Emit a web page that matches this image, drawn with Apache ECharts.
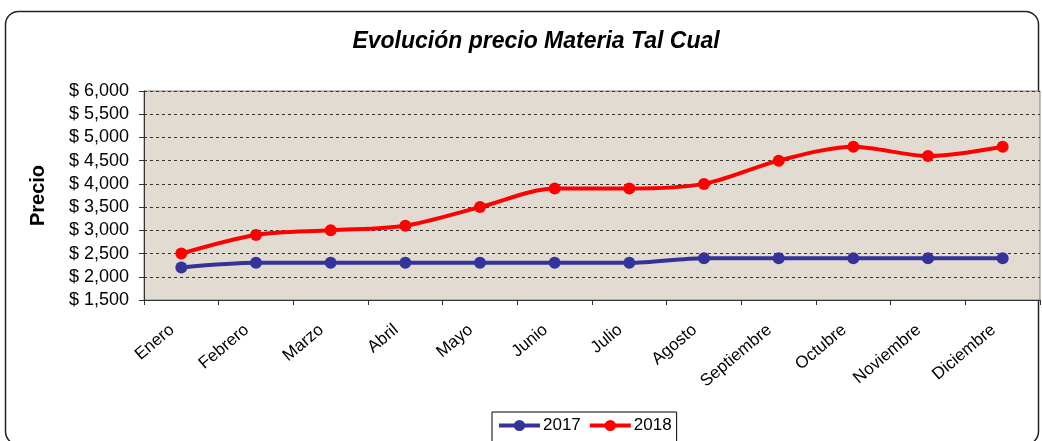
<!DOCTYPE html>
<html>

<head>
    <meta charset="utf-8">
    <title>Evolución precio</title>
    <script src="https://cdn.jsdelivr.net/npm/echarts@6/dist/echarts.min.js"></script>
    <style>
        html, body { margin: 0; padding: 0; background: #fff; }
    </style>
</head>

<body>
    <div id="main" style="width: 1042px;height: 441px;"></div>
    <script type="text/javascript">
    var months = ['Enero', 'Febrero', 'Marzo', 'Abril', 'Mayo', 'Junio', 'Julio',
        'Agosto', 'Septiembre', 'Octubre', 'Noviembre', 'Diciembre'];
    var precio2017 = [2200, 2300, 2300, 2300, 2300, 2300, 2300, 2400, 2400, 2400, 2400, 2400];
    var precio2018 = [2500, 2900, 3000, 3100, 3500, 3900, 3900, 4000, 4500, 4800, 4600, 4800];
    var yMin = 1500, yMax = 6000, yStep = 500;

    var font = 'Liberation Sans, Arial, sans-serif';
    var myChart = echarts.init(document.getElementById('main'));

    function money(v) {
        return '$ ' + v.toLocaleString('en-US');
    }

    var option = {
        animation: false,
        backgroundColor: '#fff',
        textStyle: { fontFamily: font },
        title: {
            text: 'Evolución precio Materia Tal Cual',
            left: 531,
            textAlign: 'center',
            top: 25,
            textStyle: {
                fontFamily: font,
                fontSize: 23,
                fontWeight: 'bold',
                fontStyle: 'italic',
                color: '#000'
            }
        },
        graphic: [{
            type: 'rect',
            z: -1,
            shape: { x: 5.5, y: 11.5, width: 1033, height: 433, r: 13 },
            style: { fill: 'none', stroke: '#222', lineWidth: 1.5 }
        }],
        legend: {
            data: ['2017', '2018'],
            left: 492,
            top: 412,
            orient: 'horizontal',
            backgroundColor: '#fff',
            borderColor: '#000',
            borderWidth: 1,
            padding: [5, 5, 12, 5],
            itemWidth: 41,
            itemHeight: 14,
            itemGap: 7,
            lineStyle: { width: 4 },
            textStyle: { fontFamily: font, fontSize: 17, color: '#000', padding: [0, 0, 0, -2] }
        },
        grid: {
            left: 144,
            right: 2,
            top: 91,
            bottom: 141,
            show: true,
            backgroundColor: '#E2DBD1',
            borderColor: '#808080',
            borderWidth: 1
        },
        xAxis: {
            type: 'category',
            data: months,
            boundaryGap: true,
            axisLine: { lineStyle: { color: '#333', width: 1 } },
            axisTick: { show: true, alignWithLabel: false, length: 5, lineStyle: { color: '#333' } },
            axisLabel: {
                rotate: 40,
                margin: 20,
                interval: 0,
                padding: [0, 12, 0, 0],
                fontFamily: font,
                fontSize: 17,
                color: '#000'
            }
        },
        yAxis: {
            type: 'value',
            min: yMin,
            max: yMax,
            interval: yStep,
            name: 'Precio',
            nameLocation: 'middle',
            nameGap: 96,
            nameRotate: 90,
            nameTextStyle: { fontFamily: font, fontSize: 20, fontWeight: 'bold', color: '#000' },
            axisLine: { show: true, lineStyle: { color: '#333', width: 1 } },
            axisTick: { show: true, length: 5, lineStyle: { color: '#333' } },
            axisLabel: {
                margin: 15,
                fontFamily: font,
                fontSize: 18,
                color: '#000',
                formatter: money
            },
            splitLine: {
                show: true,
                lineStyle: { color: '#333', type: [3, 3], width: 1 }
            }
        },
        series: [{
            name: '2017',
            type: 'line',
            data: precio2017,
            smooth: 0.3,
            symbol: 'circle',
            symbolSize: 12,
            color: '#333399',
            lineStyle: { width: 4, color: '#333399' },
            itemStyle: { color: '#333399' }
        }, {
            name: '2018',
            type: 'line',
            data: precio2018,
            smooth: 0.3,
            symbol: 'circle',
            symbolSize: 12,
            color: '#FF0000',
            lineStyle: { width: 4, color: '#FF0000' },
            itemStyle: { color: '#FF0000' }
        }]
    };

    myChart.setOption(option);
    </script>
</body>

</html>
